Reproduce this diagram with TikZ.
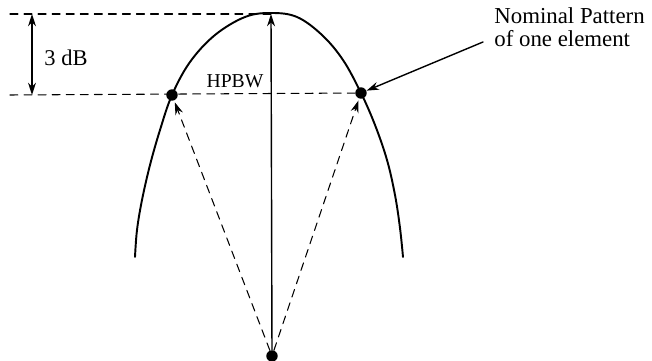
\documentclass[tikz,border=0pt]{standalone}
\usepackage{fontspec}
\setmainfont{Liberation Serif}
\usetikzlibrary{arrows.meta}

\begin{document}
\begin{tikzpicture}[x=0.02cm,y=-0.02cm,>={Stealth[length=7pt,width=4.5pt]},
  line cap=round,line join=round,
  guide/.style={dash pattern=on 4.5pt off 3.5pt,line width=0.6pt},
  ray/.style={->,dash pattern=on 4.5pt off 3.5pt,line width=0.6pt,shorten >=1pt},
  dot/.style={circle,fill,inner sep=0pt,minimum size=6.5pt}]

  \useasboundingbox (0,0) rectangle (652,361);

  % dots: source and half power points
  \node[dot] (src) at (272,356) {};
  \node[dot] (lft) at (172,95) {};
  \node[dot] (rgt) at (361,93) {};
  \coordinate (peak) at (271,14);

  % reference levels
  \draw[guide] (10,14) -- (peak);
  \draw[guide] (10,95) -- (rgt);

  % pattern of one element
  \draw[line width=1.1pt] plot[smooth,tension=0.6] coordinates {
    (135,257) (137,230) (142,200) (150,165) (160,130) (172,95) (190,62)
    (215,35) (245,17) (271,13) (297,17) (322,35) (343,60) (361,93)
    (375,125) (387,160) (395,195) (400,228) (403,257)};

  % 3 dB span
  \coordinate (dbtop) at (32,14);
  \coordinate (dbbot) at (32,95);
  \draw[<->,line width=0.8pt] (dbtop) -- (dbbot);
  \node[font=\fontsize{12.8}{14}\selectfont] (db) at (66,58) {3 dB};

  % main beam and HPBW rays
  \draw[->,line width=0.8pt] (src) -- (peak);
  \draw[ray] (src) -- (lft);
  \draw[ray] (src) -- (rgt);
  \node[font=\fontsize{11.2}{13}\selectfont] (hpbw) at (235,81) {HPBW};

  % label
  \node[align=left,anchor=north west,inner sep=0pt,
    font=\fontsize{13}{13}\selectfont] (lbl) at (494,7)
    {Nominal Pattern\\of one element};
  \draw[->,line width=0.8pt] (483,42) -- (rgt);
\end{tikzpicture}
\end{document}
